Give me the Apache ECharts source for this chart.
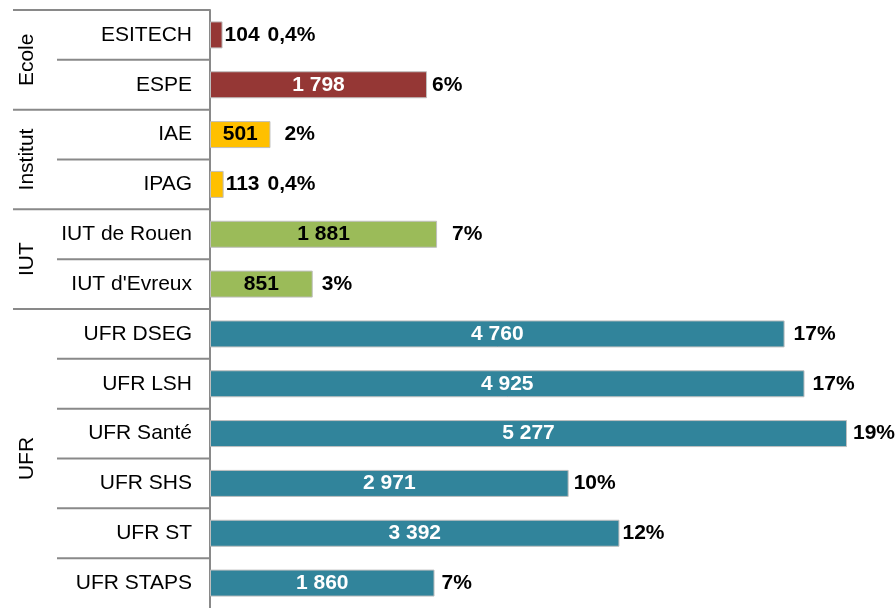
<!DOCTYPE html>
<html><head><meta charset="utf-8">
<script src="https://cdn.jsdelivr.net/npm/echarts@6/dist/echarts.min.js"></script>
<style>html,body{margin:0;padding:0;background:#fff}#c{width:895px;height:608px}</style>
</head><body><div id="c"></div>
<script>
const categories = ['ESITECH','ESPE','IAE','IPAG','IUT de Rouen',"IUT d'Evreux",'UFR DSEG','UFR LSH','UFR Santé','UFR SHS','UFR ST','UFR STAPS'];
const groupNames = ['Ecole','Institut','IUT','UFR'];
const groupSizes = [2,2,2,6];
const values = [104,1798,501,113,1881,851,4760,4925,5277,2971,3392,1860];
const percents = ['0,4%','6%','2%','0,4%','7%','3%','17%','17%','19%','10%','12%','7%'];

// label spacing (style only)
const pctGap = [0,5,14,0,15,9,9,8,6,5,3,7];

const groupColors = {Ecole:'#953735',Institut:'#FFC000',IUT:'#9BBB59',UFR:'#31849B'};
const groupLabelColors = {Ecole:'#ffffff',Institut:'#000000',IUT:'#000000',UFR:'#ffffff'};
const FONT = 'Liberation Sans, Arial, sans-serif';
const fmt = v => String(v).replace(/\B(?=(\d{3})+(?!\d))/g,' ');

const groupOf = [];
groupNames.forEach((g,gi)=>{for(let k=0;k<groupSizes[gi];k++) groupOf.push(g);});
const SMALL = 300;

const mainData = values.map((v,i)=>{
  const g = groupOf[i];
  const item = {value:v, itemStyle:{color:groupColors[g]}};
  if (v < SMALL) {
    item.label = {position:'right', distance:2, color:'#000',
      formatter: fmt(v) + '{p|' + percents[i] + '}',
      rich:{p:{fontFamily:FONT,fontSize:21,fontWeight:'bold',color:'#000',padding:[0,0,0,8]}}};
  } else {
    item.label = {position:'inside', color:groupLabelColors[g]};
  }
  return item;
});
const pctData = values.map((v,i)=>({value:v, label:{show: v >= SMALL, distance:pctGap[i]}}));

const chart = echarts.init(document.getElementById('c'), null, {renderer:'canvas'});
chart.setOption({
  animation:false,
  grid:{left:210, top:10, width:676, height:602, containLabel:false},
  xAxis:{type:'value', min:0, max:5600, show:false},
  yAxis:{type:'category', data:categories, inverse:true,
    axisLine:{show:true, lineStyle:{color:'#898989', width:2}},
    axisTick:{show:false},
    axisLabel:{fontFamily:FONT, fontSize:21, color:'#000', margin:18}},
  series:[
    {type:'bar', data:mainData, barWidth:27, barGap:'-100%',
      itemStyle:{borderColor:'#bfbfbf', borderWidth:1},
      label:{show:true, fontFamily:FONT, fontSize:21, fontWeight:'bold', formatter:p=>fmt(p.value)}},
    {type:'bar', data:pctData, barWidth:27, barGap:'-100%', silent:true,
      itemStyle:{color:'rgba(0,0,0,0)'},
      label:{show:true, position:'right', fontFamily:FONT, fontSize:21, fontWeight:'bold', color:'#000',
        formatter:p=>percents[p.dataIndex]}}
  ]
});

const cy0 = chart.convertToPixel({yAxisIndex:0}, 0);
const cy1 = chart.convertToPixel({yAxisIndex:0}, 1);
const band = cy1 - cy0;
const gridTop = cy0 - band/2;
const axisX = 210;
const gfx = [];
const lineStyle = {stroke:'#898989', lineWidth:2};
let idx = 0;
groupNames.forEach((g,gi)=>{
  const startY = gridTop + idx*band;
  gfx.push({type:'line', shape:{x1:13,y1:startY,x2:axisX,y2:startY}, style:lineStyle});
  for (let k=1;k<groupSizes[gi];k++){
    const yy = startY + k*band;
    gfx.push({type:'line', shape:{x1:57,y1:yy,x2:axisX,y2:yy}, style:lineStyle});
  }
  const cy = startY + groupSizes[gi]*band/2;
  gfx.push({type:'text', x:27, y:cy, rotation:Math.PI/2,
    style:{text:g, font:'21px ' + FONT, fill:'#000', align:'center', verticalAlign:'middle'}});
  idx += groupSizes[gi];
});
chart.setOption({graphic:gfx});
</script></body></html>
